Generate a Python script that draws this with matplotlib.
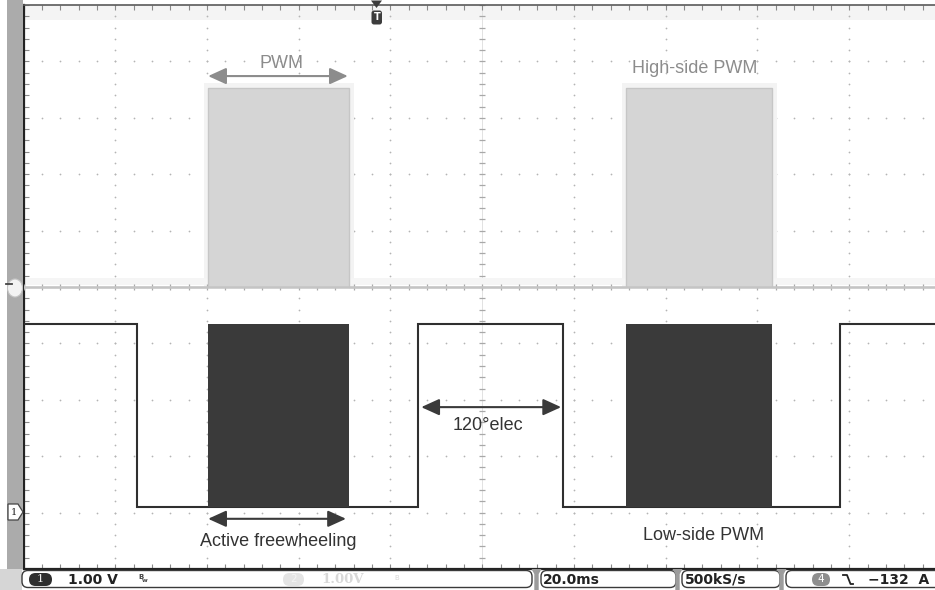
import numpy as np
import matplotlib
matplotlib.use("Agg")
import matplotlib.pyplot as plt
from matplotlib.patches import FancyArrowPatch, Polygon, FancyBboxPatch, Ellipse, Rectangle

# ---- scope settings ----
time_per_div_ms = 20.0
volts_per_div = 1.0
hs_ground_div = 0.0      # high-side channel ground marker (centre line)
ls_ground_div = -4.0     # low-side channel ground marker ("1")
screen_ms = 198.7        # visible time span from the left edge

# ---- low-side gate waveform (ms from left edge, volts) ----
ls_edges_ms = [0.0, 24.8, 85.9, 117.5, 177.9, 198.7]
ls_levels_v = [3.35, 0.1, 3.35, 0.1, 3.35]

# ---- PWM bursts (shared by both gates) ----
pwm_start_ms = [40.25, 131.4]
pwm_end_ms = [71.0, 163.2]
hs_high_v = 3.52
hs_low_v = 0.0
ls_pwm_high_v = 3.35
ls_pwm_low_v = 0.1

# ---- annotations ----
labels = ["PWM", "High-side PWM", "120°elec", "Active freewheeling", "Low-side PWM"]
status_texts = ["1.00 V", "20.0ms", "500kS/s", "−132 A"]

W, H = 935, 590
fig = plt.figure(figsize=(W / 100, H / 100), dpi=100, facecolor="white")

x0_px, top_px, bot_px = 23.5, 5.0, 569.0
ax = fig.add_axes([x0_px / W, (H - bot_px) / H, (W - x0_px) / W, (bot_px - top_px) / H])
ax.set_facecolor("white")

# edge ticks (set before the limits so they cannot widen the view)
minor_x = np.arange(0, 200.01, time_per_div_ms / 5)
minor_y = np.arange(-5, 5.01, 0.2)
ax.set_xticks(minor_x)
ax.set_yticks(minor_y)
ax.set_xlim(0, screen_ms)
ax.set_ylim(-5, 5)
ax.tick_params(axis="x", direction="in", length=3.5, width=0.8, color="#8a8a8a",
               top=True, bottom=True, labelbottom=False, labeltop=False)
ax.tick_params(axis="y", direction="in", length=3.5, width=0.8, color="#8a8a8a",
               left=True, right=False, labelleft=False)
for side, c, w in [("top", "#5a5a5a", 1.2), ("left", "#222222", 1.6), ("bottom", "#222222", 1.6)]:
    ax.spines[side].set_color(c)
    ax.spines[side].set_linewidth(w)
ax.spines["right"].set_visible(False)


def hs_div(v):
    return hs_ground_div + np.asarray(v) / volts_per_div


def ls_div(v):
    return ls_ground_div + np.asarray(v) / volts_per_div


# light band at the top of the screen
ax.axhspan(5 - 15 / 56.4, 5, color="#f4f4f4", lw=0, zorder=0)

# ---- graticule ----
for gx in np.arange(1, 10) * time_per_div_ms:
    if abs(gx - 100) < 1e-6:
        continue
    ax.scatter(np.full_like(minor_y, gx), minor_y, s=1.6, c="#b4b4b4", lw=0, zorder=1)
for gy in range(-4, 5):
    if gy == 0:
        continue
    ax.scatter(minor_x, np.full_like(minor_x, gy), s=1.6, c="#b4b4b4", lw=0, zorder=1)
# centre cross with tick marks
ax.axvline(100, color="#e2e2e2", lw=0.7, zorder=1)
ax.plot(np.full_like(minor_y, 100), minor_y, ls="none", marker="_", ms=5, mew=0.9,
        color="#a8a8a8", zorder=1)
ax.plot(minor_x, np.zeros_like(minor_x), ls="none", marker="|", ms=5, mew=0.9,
        color="#a8a8a8", zorder=3)

# ---- high-side trace ----
pad_ms = 0.05 * time_per_div_ms
for s, e in zip(pwm_start_ms, pwm_end_ms):
    ax.fill_between([s - pad_ms, e + pad_ms], hs_div(hs_low_v), hs_div(hs_high_v) + 0.1,
                    color="#f3f3f3", lw=0, zorder=2)
ax.axhline(hs_div(hs_low_v) + 0.1, color="#f5f5f5", lw=5, zorder=2)
hs_edges = [0.0]
hs_vals = []
for s, e in zip(pwm_start_ms, pwm_end_ms):
    hs_edges += [s, e]
    hs_vals += [hs_low_v, hs_high_v]
hs_edges.append(screen_ms)
hs_vals.append(hs_low_v)
for s, e in zip(pwm_start_ms, pwm_end_ms):
    ax.fill_between([s, e], hs_div(hs_low_v), hs_div(hs_high_v), color="#d5d5d5", lw=0, zorder=3)
ax.stairs(hs_div(hs_vals), hs_edges, baseline=None, color="#c6c6c6", lw=1.0, zorder=3)
ax.axhline(hs_div(hs_low_v), color="#c4c4c4", lw=1.8, zorder=3)

# ---- low-side trace ----
ax.stairs(ls_div(ls_levels_v), ls_edges_ms, baseline=None, color="#2f2f2f", lw=1.5, zorder=4)
for s, e in zip(pwm_start_ms, pwm_end_ms):
    ax.fill_between([s, e], ls_div(ls_pwm_low_v), ls_div(ls_pwm_high_v), color="#3a3a3a",
                    lw=0, zorder=5)


# ---- annotations ----
def harrow(x1, x2, y, color):
    arr = FancyArrowPatch((x1, y), (x2, y), arrowstyle="<|-|>,head_length=0.55,head_width=0.25",
                          mutation_scale=20, color=color, lw=1.5, shrinkA=0, shrinkB=0, zorder=6)
    ax.add_patch(arr)


font = ["Liberation Sans", "DejaVu Sans"]
fs = 13
harrow(pwm_start_ms[0], pwm_end_ms[0] - 0.3, 3.74, "#8c8c8c")
ax.text(56.2, 3.97, labels[0], ha="center", va="center", fontsize=fs, color="#8c8c8c",
        family=font, zorder=6)
ax.text(146.4, 3.88, labels[1], ha="center", va="center", fontsize=fs, color="#8c8c8c",
        family=font, zorder=6)
harrow(ls_edges_ms[2] + 0.8, ls_edges_ms[3] - 0.3, -2.13, "#3a3a3a")
ax.text(101.2, -2.45, labels[2], ha="center", va="center", fontsize=fs, color="#333333",
        family=font, zorder=6)
harrow(pwm_start_ms[0], pwm_end_ms[0] - 0.7, -4.11, "#3a3a3a")
ax.text(55.5, -4.52, labels[3], ha="center", va="center", fontsize=fs, color="#333333",
        family=font, zorder=6)
ax.text(148.2, -4.41, labels[4], ha="center", va="center", fontsize=fs, color="#333333",
        family=font, zorder=6)

# ---- screen furniture (pixel coordinates) ----
ov = fig.add_axes([0, 0, 1, 1], zorder=10)
ov.set_xlim(0, W)
ov.set_ylim(H, 0)
ov.axis("off")
ov.patch.set_alpha(0)

# left marker strip
ov.add_patch(Rectangle((7, 0), 16, 569, color="#ababab", lw=0))
ov.add_patch(Rectangle((0, 569), 22, 21, color="#d6d6d6", lw=0))
# channel ground markers
ov.add_patch(Ellipse((15, 288), 15, 18, fc="#f3f3f3", ec="#c4c4c4", lw=0.8))
ov.plot([6, 12], [284, 284], color="#444444", lw=1.3)
ov.add_patch(Polygon([(8, 504), (18, 504), (23, 512), (18, 520), (8, 520)], closed=True,
                     fc="white", ec="#444444", lw=0.9))
ov.text(14, 512.5, "1", ha="center", va="center", fontsize=7, family="DejaVu Serif", color="#222")
# trigger position marker
ov.add_patch(Polygon([(371, 0.5), (382, 0.5), (376.5, 8)], closed=True, fc="#3c3c3c", lw=0))
ov.add_patch(FancyBboxPatch((371.5, 10.5), 10.5, 14, boxstyle="round,pad=0,rounding_size=2.5",
                            fc="#3c3c3c", ec="none"))
ov.text(376.8, 17.5, "T", ha="center", va="center", fontsize=7, fontweight="bold", color="white")

# status bar
for x1, x2 in [(22, 532), (541, 676), (682, 780), (786, 945)]:
    ov.add_patch(FancyBboxPatch((x1, 570.5), x2 - x1, 17, boxstyle="round,pad=0,rounding_size=6",
                                fc="white", ec="#3a3a3a", lw=1.0))
for tx in [536.5, 677.5, 781.5]:
    ov.add_patch(Polygon([(tx - 5, 569), (tx + 5, 569), (tx + 2.2, 574), (tx + 2.2, 590),
                          (tx - 2.2, 590), (tx - 2.2, 574)], closed=True, fc="#9c9c9c", lw=0))
ov.add_patch(FancyBboxPatch((29, 573), 23, 13, boxstyle="round,pad=0,rounding_size=6.5",
                            fc="#2e2e2e", ec="none"))
ov.text(40.5, 579.5, "1", ha="center", va="center", fontsize=8, family="DejaVu Serif",
        color="#eeeeee")
sb = dict(fontsize=10, fontweight="bold", color="#222222", va="center", family="DejaVu Sans")
ov.text(68, 579.5, status_texts[0], ha="left", **sb)
ov.text(138, 577, "B", fontsize=5, color="#444", ha="left", va="center", fontweight="bold")
ov.text(141.5, 581, "w", fontsize=4.5, color="#444", ha="left", va="center", fontweight="bold")
# inactive channel 2 readout
ov.add_patch(FancyBboxPatch((283, 573), 21, 13, boxstyle="round,pad=0,rounding_size=6.5",
                            fc="#e4e4e4", ec="none"))
ov.text(293.5, 579.5, "2", ha="center", va="center", fontsize=7.5, color="#f4f4f4")
ov.text(321, 579.5, "1.00V", ha="left", va="center", fontsize=9.5, fontweight="bold",
        family="DejaVu Serif", color="#d8d8d8")
ov.text(394, 578, "B", fontsize=5, color="#d8d8d8", ha="left", va="center")
ov.text(543, 579.5, status_texts[1], ha="left", **sb)
ov.text(685, 579.5, status_texts[2], ha="left", **sb)
ov.add_patch(FancyBboxPatch((812, 573), 18, 13, boxstyle="round,pad=0,rounding_size=6.5",
                            fc="#8e8e8e", ec="none"))
ov.text(821, 579.5, "4", ha="center", va="center", fontsize=7.5, color="white")
ov.plot([843, 847, 850.5, 853], [575, 575, 584, 584], color="#222222", lw=1.3)
ov.text(868, 579.5, status_texts[3].replace(" ", "  "), ha="left", **sb)

fig.savefig("out.png", dpi=100, facecolor="white")
